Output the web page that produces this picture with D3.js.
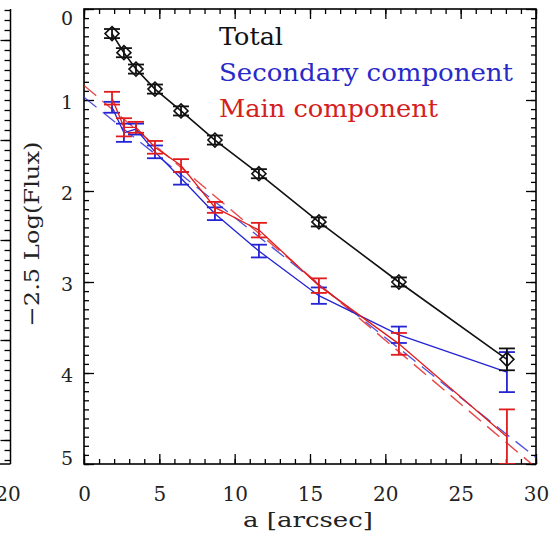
<!DOCTYPE html>
<html>
<head>
<meta charset="utf-8">
<title>Flux profile</title>
<script src="https://d3js.org/d3.v7.min.js"></script>
<style>
  body { margin: 0; background: #fff; }
  svg { display: block; }
  .axis text { font-family: "DejaVu Serif", serif; fill: #222; }
  .axis path { display: none; }
  .axis line { stroke: #000; stroke-width: 1.3; }
</style>
</head>
<body>
<script>
// semi-major axis of the isophotes (arcsec)
var radii = [1.86, 2.65, 3.45, 4.71, 6.44, 8.69, 11.61, 15.59, 20.9, 28.07];

// -2.5 log(flux) for each component
var totalMag = [0.27, 0.48, 0.66, 0.88, 1.12, 1.44, 1.81, 2.34, 3.00, 3.85];
var totalErr = [0.05, 0.05, 0.05, 0.05, 0.05, 0.05, 0.05, 0.05, 0.05, 0.12];
var secMag   = [1.08, 1.36, 1.32, 1.57, 1.86, 2.25, 2.66, 3.15, 3.58, 3.99];
var secErr   = [0.06, 0.10, 0.06, 0.07, 0.07, 0.07, 0.07, 0.09, 0.09, 0.22];
var mainMag  = [0.98, 1.30, 1.30, 1.52, 1.72, 2.18, 2.43, 3.04, 3.68, 4.70];
var mainErr  = [0.07, 0.10, 0.06, 0.07, 0.07, 0.06, 0.08, 0.08, 0.12, 0.30];

// linear fits, evaluated at the ends of the x range
var fitX     = [0, 30];
var mainFitY = [0.84, 5.04];
var secFitY  = [0.97, 4.93];

var legendLabels = ["Total", "Secondary component", "Main component"];
var xTicks = [0, 5, 10, 15, 20, 25, 30];
var yTicks = [0, 1, 2, 3, 4, 5];

var W = 553, H = 540;
var pLeft = 84, pRight = 536, pTop = 9, pBottom = 464;

var black = "#111", blue = "#2424d4", red = "#e01c1c";

var svg = d3.select("body").append("svg")
    .attr("width", W)
    .attr("height", H);

var x = d3.scaleLinear().domain([0, 30]).range([pLeft, pRight]);
var y = d3.scaleLinear().domain([0, 5]).range([pTop, pBottom]);

svg.append("defs").append("clipPath")
    .attr("id", "plot-clip")
  .append("rect")
    .attr("x", pLeft).attr("y", pTop)
    .attr("width", pRight - pLeft).attr("height", pBottom - pTop);

// --- partial neighbour panel on the far left ---
var ly = d3.scaleLinear().domain([-0.31, 4.24]).range([pTop, pBottom]);
svg.append("line")
    .attr("x1", 10.5).attr("x2", 10.5).attr("y1", pTop).attr("y2", pBottom)
    .attr("stroke", "#000").attr("stroke-width", 1.5);
svg.append("line")
    .attr("x1", 0).attr("x2", 10.5).attr("y1", pBottom).attr("y2", pBottom)
    .attr("stroke", "#000").attr("stroke-width", 1.5);
svg.append("g").attr("class", "axis")
    .attr("transform", "translate(10.5,0)")
    .call(d3.axisLeft(ly).tickValues(d3.range(-3, 43).map(function(d) { return d / 10; }))
      .tickSize(6).tickFormat(""));
svg.append("g").attr("class", "axis")
    .attr("transform", "translate(10.5,0)")
    .call(d3.axisLeft(ly).tickValues([0, 1, 2, 3, 4]).tickSize(10).tickFormat(""));
svg.append("text")
    .attr("x", 8).attr("y", 501)
    .attr("text-anchor", "middle")
    .style("font-family", "DejaVu Serif, serif")
    .style("font-size", "20px")
    .attr("fill", "#222")
    .text("20");

// --- frame and ticks ---
svg.append("rect")
    .attr("x", pLeft).attr("y", pTop)
    .attr("width", pRight - pLeft).attr("height", pBottom - pTop)
    .attr("fill", "none").attr("stroke", "#000").attr("stroke-width", 1.6);

var xMinor = d3.range(0, 31);
var yMinor = d3.range(0, 51).map(function(d) { return d / 10; });

function addAxis(axis, tx, ty) {
  return svg.append("g").attr("class", "axis")
      .attr("transform", "translate(" + tx + "," + ty + ")")
      .call(axis);
}

// minor ticks on all four sides
addAxis(d3.axisBottom(x).tickValues(xMinor).tickSize(-5).tickFormat(""), 0, pBottom);
addAxis(d3.axisTop(x).tickValues(xMinor).tickSize(-5).tickFormat(""), 0, pTop);
addAxis(d3.axisLeft(y).tickValues(yMinor).tickSize(-5).tickFormat(""), pLeft, 0);
addAxis(d3.axisRight(y).tickValues(yMinor).tickSize(-5).tickFormat(""), pRight, 0);

// major ticks
addAxis(d3.axisTop(x).tickValues(xTicks).tickSize(-10).tickFormat(""), 0, pTop);
addAxis(d3.axisRight(y).tickValues(yTicks).tickSize(-10).tickFormat(""), pRight, 0);

var xAxis = addAxis(d3.axisBottom(x).tickValues(xTicks).tickSize(-10).tickFormat(d3.format("d")), 0, pBottom);
xAxis.selectAll("text")
    .attr("y", 37).attr("dy", 0)
    .style("font-size", "20px");

var yAxis = addAxis(d3.axisLeft(y).tickValues(yTicks).tickSize(-10).tickPadding(11)
    .tickFormat(d3.format("d")), pLeft, 0);
yAxis.selectAll("text")
    .style("font-size", "19px")
    .attr("dy", function(d) { return d === 0 ? "0.8em" : d === 5 ? "0.05em" : "0.45em"; });

// axis titles
svg.append("text")
    .attr("x", 308).attr("y", 527)
    .attr("text-anchor", "middle")
    .attr("textLength", 130).attr("lengthAdjust", "spacingAndGlyphs")
    .style("font-family", "DejaVu Serif, serif")
    .style("font-size", "21px")
    .attr("fill", "#222")
    .text("a [arcsec]");

svg.append("text")
    .attr("transform", "translate(39,234) rotate(-90)")
    .attr("text-anchor", "middle")
    .attr("textLength", 185).attr("lengthAdjust", "spacingAndGlyphs")
    .style("font-family", "DejaVu Serif, serif")
    .style("font-size", "21px")
    .attr("fill", "#222")
    .text("\u22122.5 Log(Flux)");

// --- data ---
var plot = svg.append("g").attr("clip-path", "url(#plot-clip)");

var line = d3.line()
    .x(function(d) { return x(d[0]); })
    .y(function(d) { return y(d[1]); });

function zip(xs, ys) {
  return xs.map(function(v, i) { return [v, ys[i]]; });
}

// fits
plot.append("path")
    .attr("d", line(zip(fitX, secFitY)))
    .attr("fill", "none").attr("stroke", blue).attr("stroke-width", 1.3)
    .attr("stroke-dasharray", "16,8").attr("opacity", 0.8);
plot.append("path")
    .attr("d", line(zip(fitX, mainFitY)))
    .attr("fill", "none").attr("stroke", red).attr("stroke-width", 1.4)
    .attr("stroke-dasharray", "16,8").attr("opacity", 0.8);

function series(vals, errs, color, width) {
  var pts = zip(radii, vals);
  plot.append("path")
      .attr("d", line(pts))
      .attr("fill", "none").attr("stroke", color).attr("stroke-width", width);

  var g = plot.append("g").attr("stroke", color).attr("stroke-width", 1.8);
  pts.forEach(function(p, i) {
    var cx = x(p[0]), y0 = y(p[1] - errs[i]), y1 = y(p[1] + errs[i]);
    g.append("line").attr("x1", cx).attr("x2", cx).attr("y1", y0).attr("y2", y1);
    g.append("line").attr("x1", cx - 8).attr("x2", cx + 8).attr("y1", y0).attr("y2", y0);
    g.append("line").attr("x1", cx - 8).attr("x2", cx + 8).attr("y1", y1).attr("y2", y1);
  });
  return pts;
}

series(secMag, secErr, blue, 1.3);
series(mainMag, mainErr, red, 1.3);
var totalPts = series(totalMag, totalErr, black, 1.6);

plot.append("g").selectAll("path")
    .data(totalPts)
  .enter().append("path")
    .attr("d", function(d) {
      var cx = x(d[0]), cy = y(d[1]), r = 7;
      return "M" + cx + "," + (cy - r) + "L" + (cx + r) + "," + cy +
             "L" + cx + "," + (cy + r) + "L" + (cx - r) + "," + cy + "Z";
    })
    .attr("fill", "none").attr("stroke", black).attr("stroke-width", 1.6);

// --- legend ---
var legendColors = [black, "#2a2ac8", "#d42020"];
var legendWidths = [64, 294, 219];
var legendBase = [45, 81, 117];
svg.append("g").selectAll("text")
    .data(legendLabels)
  .enter().append("text")
    .attr("x", 219)
    .attr("y", function(d, i) { return legendBase[i]; })
    .attr("textLength", function(d, i) { return legendWidths[i]; })
    .attr("lengthAdjust", "spacingAndGlyphs")
    .style("font-family", "DejaVu Serif, serif")
    .style("font-size", "25px")
    .attr("fill", function(d, i) { return legendColors[i]; })
    .text(function(d) { return d; });
</script>
</body>
</html>
